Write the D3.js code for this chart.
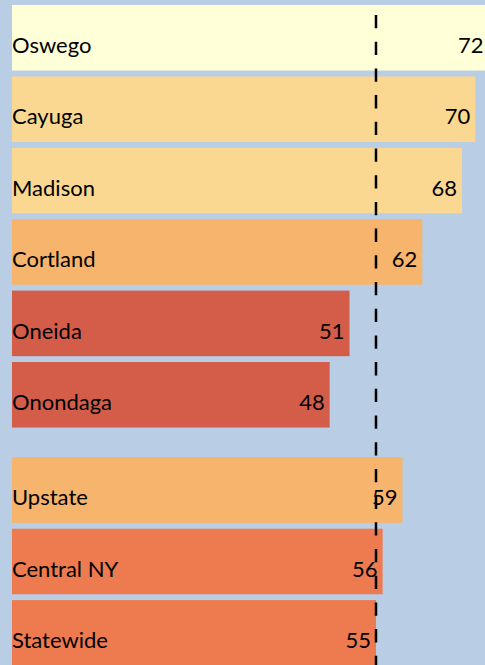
<!DOCTYPE html>
<html>
<head>
<meta charset="utf-8">
<script src="https://cdn.jsdelivr.net/npm/d3@7"></script>
<style>
  html, body { margin: 0; padding: 0; background: #b9cde5; }
  svg { display: block; }
  text { font-family: Lato, "Open Sans", sans-serif; font-size: 22px; fill: #000; }
</style>
</head>
<body>
<svg id="chart" width="485" height="665"></svg>
<script>
const counties = ['Oswego', 'Cayuga', 'Madison', 'Cortland', 'Oneida', 'Onondaga'];
const countyValues = [72, 70, 68, 62, 51, 48];
const regions = ['Upstate', 'Central NY', 'Statewide'];
const regionValues = [59, 56, 55];
const benchmark = 'Statewide'; // dashed line sits at this row's value

const W = 485, H = 665;
const svg = d3.select('#chart');

svg.append('rect')
    .attr('width', W)
    .attr('height', H)
    .style('fill', '#b9cde5');

// bars start at x=12, roughly 6.62px per point
const x = d3.scaleLinear().domain([0, 72]).range([12, 488.5]);

const step = 71.4, pad = 0.082;
const yTop = d3.scaleBand()
    .domain(counties)
    .range([5, 5 + step * (counties.length - pad)])
    .paddingInner(pad);
const yBottom = d3.scaleBand()
    .domain(regions)
    .range([457.3, 457.3 + step * (regions.length - pad)])
    .paddingInner(pad);

const color = d3.scaleThreshold()
    .domain([52, 57, 65, 71])
    .range(['#d45d4a', '#ee7a50', '#f6b46c', '#fad891', '#ffffd8']);

function drawGroup(names, values, y) {
    const rows = names.map((name, i) => ({name: name, value: values[i]}));
    const g = svg.append('g');
    const row = g.selectAll('g')
        .data(rows)
        .join('g')
        .attr('transform', d => `translate(0,${y(d.name)})`);
    row.append('rect')
        .attr('x', x(0))
        .attr('width', d => x(d.value) - x(0))
        .attr('height', y.bandwidth())
        .style('fill', d => color(d.value));
    row.append('text')
        .attr('x', x(0))
        .attr('y', 48)
        .text(d => d.name);
    row.append('text')
        .attr('x', d => x(d.value) - 5)
        .attr('y', 48)
        .attr('text-anchor', 'end')
        .text(d => d.value);
}

drawGroup(counties, countyValues, yTop);
drawGroup(regions, regionValues, yBottom);

const refX = x(regionValues[regions.indexOf(benchmark)]);
svg.append('line')
    .attr('x1', refX)
    .attr('x2', refX)
    .attr('y1', 15)
    .attr('y2', H)
    .style('stroke', '#000')
    .style('stroke-width', 2.5)
    .style('stroke-dasharray', '13.3,13.4');
</script>
</body>
</html>
